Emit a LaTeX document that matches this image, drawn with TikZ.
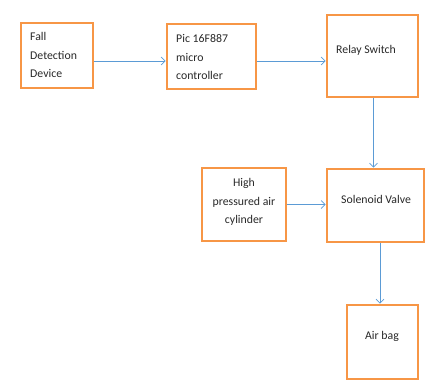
\documentclass[tikz,border=0pt]{standalone}
\usepackage{fontspec}
\setmainfont{Carlito}
\usetikzlibrary{arrows.meta}
\definecolor{boxorange}{RGB}{247,150,70}
\definecolor{flowblue}{RGB}{91,155,213}
\definecolor{txtgrey}{RGB}{40,40,40}

\begin{document}
\begin{tikzpicture}[x=1pt, y=-1pt,
    blk/.style={draw=boxorange, line width=2.6pt, rectangle, inner sep=0pt},
    txt/.style={font=\fontsize{11.8}{18.5}\selectfont, text=txtgrey, inner sep=0pt},
    flow/.style={draw=flowblue, line width=0.7pt, -{Straight Barb[length=4pt, width=8pt]}}]

        \useasboundingbox (0,0) rectangle (432,386);

        \node[blk, minimum width=72, minimum height=65] (fall) at (57,55.5) {};
        \node[txt, align=left, anchor=west] (falltxt) at (30,55) {Fall\\Detection\\Device};
        \node[blk, minimum width=89, minimum height=65] (pic) at (211.5,56.5) {};
        \node[txt, align=left, anchor=west] (pictxt) at (176,57) {Pic 16F887\\micro\\controller};
        \node[blk, minimum width=91, minimum height=82] (relay) at (372.5,56) {};
        \node[txt, anchor=west] (relaytxt) at (336,50) {Relay Switch};

        \node[blk, minimum width=84, minimum height=73] (high) at (244,204.5) {};
        \node[txt, align=center] (hightxt) at (244,202) {High\\pressured air\\cylinder};
        \node[blk, minimum width=97, minimum height=73] (sol) at (375.5,205.5) {};
        \node[txt, anchor=west] (soltxt) at (341,199) {Solenoid Valve};

        \node[blk, minimum width=71, minimum height=74] (bag) at (382.5,342) {};
        \node[txt] (bagtxt) at (382,336) {Air bag};

        \draw[flow] ([yshift=-5.5pt]fall.east) -- ([yshift=-5.5pt]fall.east -| pic.west);
        \draw[flow] ([yshift=-4.5pt]pic.east) -- ([yshift=-4.5pt]pic.east -| relay.west);
        \draw[flow] ([xshift=1pt]relay.south) -- ([xshift=1pt]relay.south |- sol.north);
        \draw[flow] (high.east) -- (high.east -| sol.west);
        \draw[flow] ([xshift=4.5pt]sol.south) -- ([xshift=4.5pt]sol.south |- bag.north);

    \end{tikzpicture}
\end{document}
